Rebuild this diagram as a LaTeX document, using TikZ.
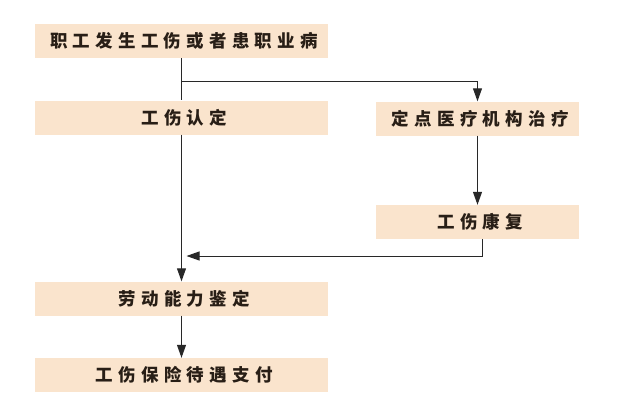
\documentclass[tikz,border=0pt]{standalone}
\usepackage{fontspec}
\usepackage{xcolor}
\usetikzlibrary{arrows.meta, positioning, calc}
\newfontfamily\cjk[LetterSpace=30]{Noto Sans CJK SC}
\definecolor{boxfill}{RGB}{250,228,205}
\definecolor{inkbrown}{RGB}{40,30,22}
\definecolor{linegray}{RGB}{40,40,40}

\begin{document}
\begin{tikzpicture}[x=1pt, y=-1pt,
    box/.style={fill=boxfill, minimum height=34pt, inner sep=0pt,
      font=\cjk\bfseries\fontsize{17.5}{19}\selectfont, text=inkbrown},
    wide/.style={box, minimum width=293pt},
    narrow/.style={box, minimum width=203pt},
    link/.style={draw=linegray, line width=1pt},
    arrow/.style={link, -{Triangle[length=13pt, width=9pt]}}]
  \useasboundingbox (0,0) rectangle (640,408);

  % Left column
  \node[wide] (injury) at (181.5,41) {\hspace{0.3em}职工发生工伤或者患职业病};
  \node[wide] (confirm) at (181.5,117.5) {\hspace{0.3em}工伤认定};
  \node[wide] (assess) at (181.5,298.5) {\hspace{0.3em}劳动能力鉴定};
  \node[wide] (payment) at (181.5,375) {\hspace{0.3em}工伤保险待遇支付};

  % Right column
  \node[narrow] (treat) at (477.5,118.5) {\hspace{0.3em}定点医疗机构治疗};
  \node[narrow] (rehab) at (477.5,222) {\hspace{0.3em}工伤康复};

  % Branch and merge points
  \coordinate (split) at (injury.south |- 0,81);
  \coordinate (merge) at ($(confirm.south |- 0,256)+(5,0)$);
  \coordinate (rehabout) at ($(rehab.south)+(5,0)$);

  % Connectors
  \draw[link] (injury.south) -- (confirm.north);
  \draw[arrow] (split) -| (treat.north);
  \draw[arrow] (confirm.south) -- (assess.north);
  \draw[arrow] (treat) -- (rehab);
  \draw[arrow] (rehabout) |- (merge);
  \draw[arrow] (assess) -- (payment);
\end{tikzpicture}
\end{document}
